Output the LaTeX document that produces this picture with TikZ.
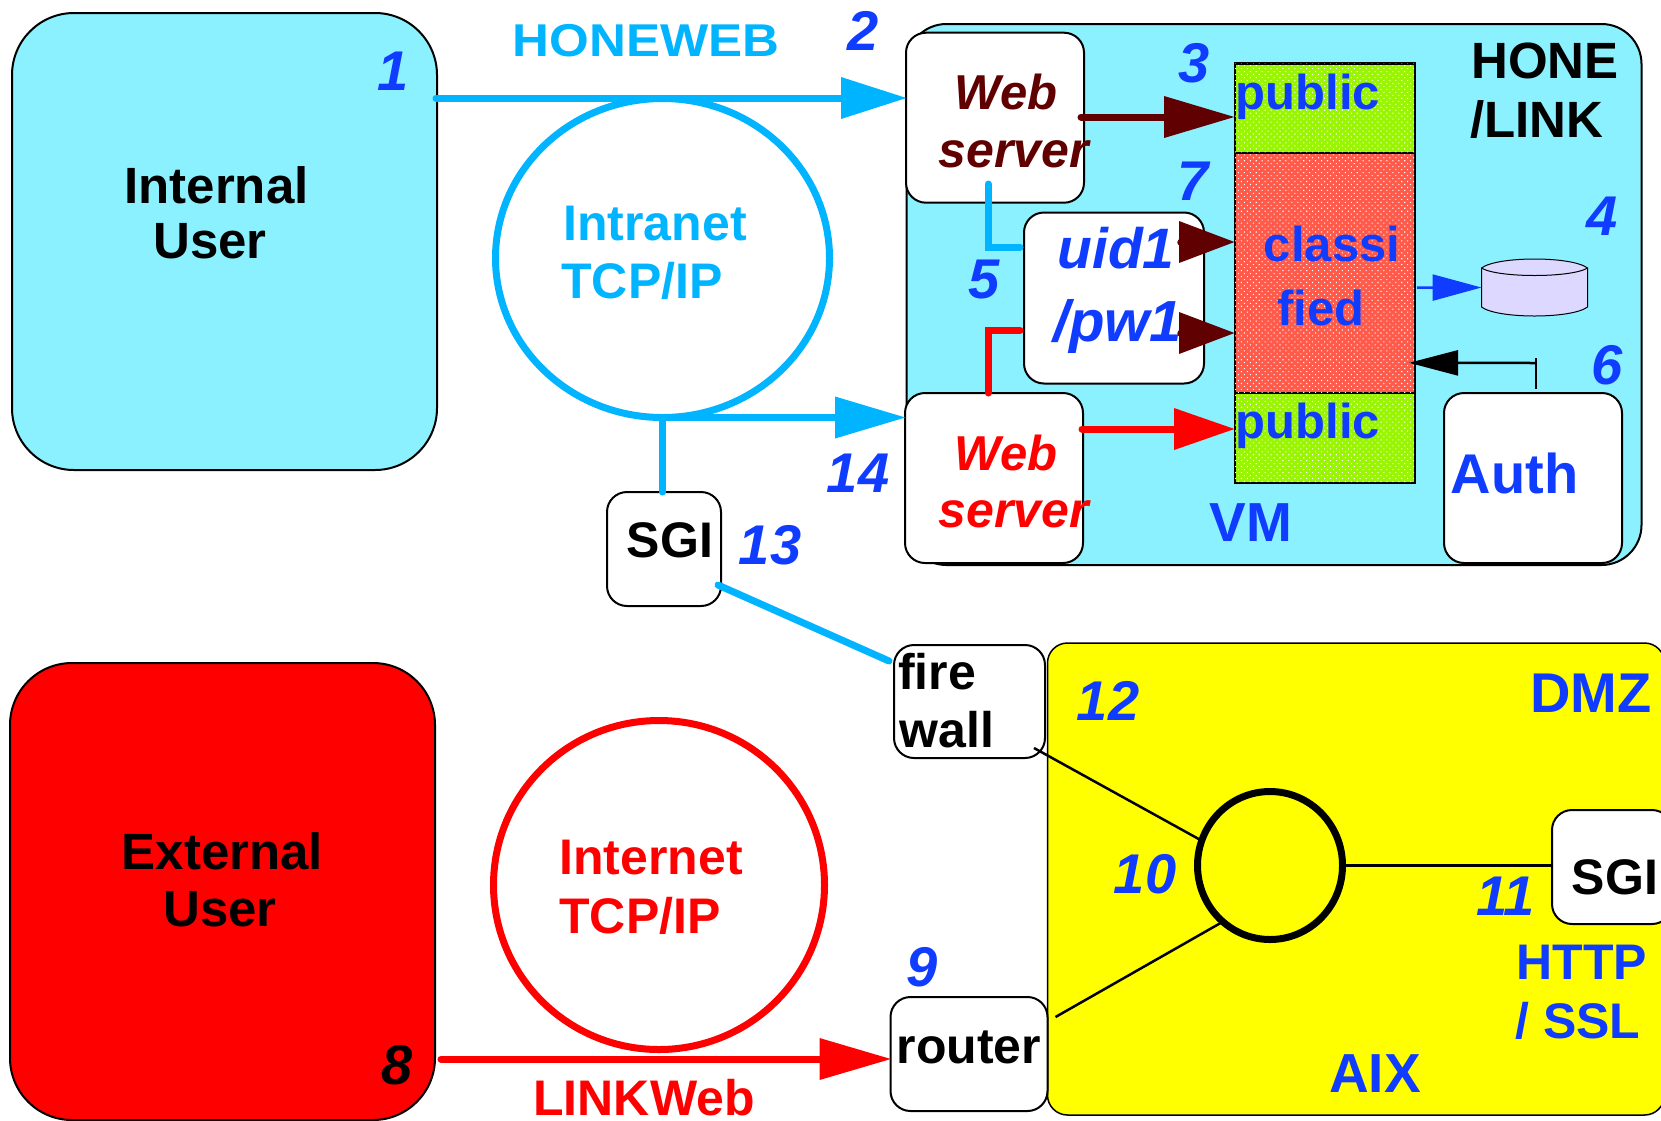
\documentclass[tikz,border=0pt]{standalone}
\usepackage{fontspec}
\setmainfont{Liberation Sans}
\usepackage{xcolor}
\usetikzlibrary{arrows.meta, patterns.meta, shapes.geometric}

\definecolor{hone}{HTML}{8CF1FF}
\definecolor{netblue}{HTML}{00B4FF}
\definecolor{numblue}{HTML}{0F3CFF}
\definecolor{webred}{HTML}{600000}
\definecolor{pubgreen}{HTML}{99F500}
\definecolor{clsred}{HTML}{FF5A4A}
\definecolor{dbfill}{HTML}{DDD8FF}
\definecolor{dmzyellow}{HTML}{FFFF00}

\tikzset{
	x=1pt, y=-1pt,
	box/.style 2 args={draw=black, line width=2pt, rounded corners=20pt, fill=white, outer sep=0pt, inner sep=0pt, minimum width=#1, minimum height=#2},
	area/.style 2 args={box={#1}{#2}, rounded corners=62pt},
	ring/.style 2 args={ellipse, draw, line width=7pt, outer sep=0pt, inner sep=0pt, minimum width=#1, minimum height=#2},
	slab/.style n args={3}{draw=black, line width=2.5pt, outer sep=0pt, inner sep=0pt, minimum width=#1, minimum height=#2, fill=#3, postaction={pattern={Dots[angle=45, distance=4.2pt, radius=0.75pt]}, pattern color=white}},
	txt/.style={inner sep=0pt, font=\bfseries\fontsize{50}{50}\selectfont},
	itxt/.style={inner sep=0pt, font=\bfseries\itshape\fontsize{49}{49}\selectfont},
	num/.style={inner sep=0pt, text=numblue, font=\bfseries\itshape\fontsize{56}{56}\selectfont},
	wire/.style={line width=7pt, line cap=round},
	thin wire/.style={line width=2.5pt},
	bighead/.style={-{Triangle[length=#1, width=40pt]}},
}

\begin{document}
\begin{tikzpicture}
	\useasboundingbox (0,0) rectangle (1661,1120);

	\begin{scope}
		\node[area={425}{457}, fill=hone] (internal) at (224.5,241.5) {};
		\node[area={425}{457}, fill=red] (external) at (222.5,891.5) {};
		\node[area={735}{541}, fill=hone, rounded corners=40pt] (hone) at (1274,294.5) {};
		\node[box={617}{472}, fill=dmzyellow, line width=1.5pt] (dmz) at (1356,879) {};
	\end{scope}

	\begin{scope}
		\node[ring={334}{319}, draw=netblue] (intranet) at (662.5,258) {};
		\node[ring={331}{329}, draw=red] (internet) at (659,885) {};
		\node[ring={145}{148}, draw=black] (hub) at (1270,865.5) {};
	\end{scope}

	\begin{scope}
		\node[box={178}{170}] (webA) at (995,117.7) {};
		\node[box={178}{170}] (webB) at (994,478) {};
		\node[box={180}{171}] (uid) at (1114,298) {};
		\node[box={178}{170}] (auth) at (1533,478) {};
		\node[box={114}{114}] (sgiA) at (664,549) {};
		\node[box={151}{113}] (firewall) at (969.5,701.5) {};
		\node[box={157}{114}] (router) at (969,1054) {};
		\node[box={120}{114}] (sgiB) at (1612,867) {};
	\end{scope}

	\begin{scope}
		\node[slab={180}{89.2}{pubgreen}] (pubA) at (1325,108.2) {};
		\node[slab={180}{240}{clsred}] (cls) at (1325,272.8) {};
		\node[slab={180}{90}{pubgreen}] (pubB) at (1325,437.8) {};
		\node[minimum width=106pt, minimum height=57pt, inner sep=0pt, outer sep=0pt] (db) at (1534.5,287.5) {};
		\draw[line width=1pt, fill=dbfill] (1481.5,268) .. controls (1497.5,256) and (1571.5,256) .. (1587.5,268) -- (1587.5,307) .. controls (1571.5,319) and (1497.5,319) .. (1481.5,307) -- cycle;
		\draw[line width=1pt] (1481.5,268) .. controls (1497.5,278) and (1571.5,278) .. (1587.5,268);
	\end{scope}

	\begin{scope}
		\node[itxt, text=numblue, font=\bfseries\itshape\fontsize{57}{57}\selectfont] (uida) at (1116,248) {uid1};
		\node[itxt, text=numblue, font=\bfseries\itshape\fontsize{58}{58}\selectfont] (uidb) at (1117.5,326) {/pw1};
	\end{scope}

	\begin{scope}
		\draw[wire, netblue, bighead=66pt] ([xshift=-1pt, yshift=143.5pt]internal.east) -- ([xshift=1pt, yshift=19.7pt]webA.west);
		\draw[wire, netblue, bighead=71pt] (intranet.south) -- ([xshift=1pt, yshift=60.5pt]webB.west);
		\draw[wire, netblue] (intranet.south) -- (intranet.south |- sgiA.north);
		\draw[wire, netblue] ([xshift=-3pt, yshift=-36pt]sgiA.east) -- ([xshift=-5pt, yshift=40.5pt]firewall.west);
		\draw[wire, red, bighead=72pt] ([xshift=6pt, yshift=-167.5pt]external.east) -- ([xshift=1pt, yshift=-5pt]router.west);

		\draw[wire, webred, bighead=71pt] ([xshift=-3pt, yshift=0.7pt]webA.east) -- ([yshift=-8.8pt]pubA.west);
		\draw[wire, red, bighead=61pt] ([xshift=-1pt, yshift=49pt]webB.east) -- ([yshift=8.8pt]pubB.west);
		\draw[wire, webred, bighead=56pt] ([xshift=-18pt, yshift=56pt]uid.east) -- ([yshift=30.8pt]cls.west);
		\draw[wire, webred, bighead=56pt] ([xshift=-18pt, yshift=-35pt]uid.east) -- ([yshift=-60.2pt]cls.west);

		\draw[wire, netblue] ([xshift=-7pt, yshift=18.7pt]webA.south) |- ([xshift=-4pt, yshift=51pt]uid.west);
		\draw[wire, red] ([xshift=-6pt]webB.north) |- ([xshift=-4pt, yshift=-32.5pt]uid.west);

		\draw[thin wire, numblue, -{Triangle[length=49pt, width=26pt]}] ([xshift=2pt, yshift=-14.8pt]cls.east) -- (db.west);
		\draw[thin wire, -{Triangle[length=49pt, width=25pt]}] ([xshift=3pt, yshift=30pt]auth.north) -- ([xshift=-6pt, yshift=-90pt]cls.east);
		\draw[thin wire] ([xshift=3pt, yshift=4pt]auth.north) -- ([xshift=3pt, yshift=35pt]auth.north);

		\draw[thin wire] ([xshift=-11pt, yshift=10pt]firewall.south east) -- (hub.160);
		\draw[thin wire] ([xshift=8pt, yshift=37pt]router.east) -- (hub.-130);
		\draw[thin wire] (hub.east) -- (hub.east -| sgiB.west);
	\end{scope}

	\begin{scope}
		\node[txt, text=netblue, xscale=1.11, font=\bfseries\fontsize{46}{46}\selectfont] (honeweb) at (646,41) {HONEWEB};
		\node[txt, text=netblue] (intra) at (655,224) {Intranet};
		\node[txt, text=netblue] (intraip) at (642,281) {TCP/IP};
		\node[txt, text=red] (inter) at (651,858) {Internet};
		\node[txt, text=red] (interip) at (640,916) {TCP/IP};
		\node[txt, text=red] (linkweb) at (644,1098) {LINKWeb};

		\node[txt, font=\bfseries\fontsize{51}{51}\selectfont] (intuser) at (216.5,185) {Internal};
		\node[txt, font=\bfseries\fontsize{51}{51}\selectfont] (intuserb) at (210,241.5) {User};
		\node[txt, font=\bfseries\fontsize{51}{51}\selectfont] (extuser) at (222.5,851) {External};
		\node[txt, font=\bfseries\fontsize{51}{51}\selectfont] (extuserb) at (220,909) {User};

		\node[txt, font=\bfseries\fontsize{51}{51}\selectfont] (honelbl) at (1545,61) {HONE};
		\node[txt, font=\bfseries\fontsize{51}{51}\selectfont] (linklbl) at (1537,120) {/LINK};
		\node[txt, text=numblue, font=\bfseries\fontsize{55}{55}\selectfont] (vm) at (1251,523) {VM};
		\node[txt, text=numblue, font=\bfseries\fontsize{56}{56}\selectfont] (authlbl) at (1514.5,473) {Auth};
		\node[txt, text=numblue, font=\bfseries\fontsize{56}{56}\selectfont] (dmzlbl) at (1591,693) {DMZ};
		\node[txt, text=numblue, font=\bfseries\fontsize{55}{55}\selectfont] (aix) at (1375,1074) {AIX};
		\node[txt, text=numblue] (http) at (1582,962) {HTTP};
		\node[txt, text=numblue] (ssl) at (1578,1021) {/ SSL};

		\node[itxt, text=webred] (webAa) at (1006,92) {Web};
		\node[itxt, text=webred, font=\bfseries\itshape\fontsize{50}{50}\selectfont] (webAb) at (1013.5,154) {server};
		\node[itxt, text=red] (webBa) at (1006,453) {Web};
		\node[itxt, text=red, font=\bfseries\itshape\fontsize{50}{50}\selectfont] (webBb) at (1013.5,514) {server};

		\node[txt, text=numblue, font=\bfseries\fontsize{49}{49}\selectfont] (puba) at (1308,97) {public};
		\node[txt, text=numblue, font=\bfseries\fontsize{49}{49}\selectfont] (pubb) at (1308,426) {public};
		\node[txt, text=numblue, font=\bfseries\fontsize{49}{49}\selectfont] (clsa) at (1332,244) {classi};
		\node[txt, text=numblue, font=\bfseries\fontsize{49}{49}\selectfont] (clsb) at (1321,308) {fied};

		\node[txt] (sgiAlbl) at (670,540) {SGI};
		\node[txt] (sgiBlbl) at (1615,877) {SGI};
		\node[txt] (firea) at (937,672) {fire};
		\node[txt] (fireb) at (947,730) {wall};
		\node[txt] (routerlbl) at (969,1047) {router};
	\end{scope}

	\begin{scope}
		\node[num] (n1) at (393,71) {1};
		\node[num] (n2) at (863,31) {2};
		\node[num] (n3) at (1194,63) {3};
		\node[num] (n4) at (1602,216) {4};
		\node[num] (n5) at (983.6,280) {5};
		\node[num] (n6) at (1606.6,365.5) {6};
		\node[num] (n7) at (1193,181) {7};
		\node[num, text=black] (n8) at (397,1065) {8};
		\node[num] (n9) at (922,967) {9};
		\node[num] (n10) at (1145,874) {10};
		\node[num] (n11) at (1506,896) {11};
		\node[num] (n12) at (1108,701) {12};
		\node[num] (n13) at (770,545.5) {13};
		\node[num] (n14) at (858,473.5) {14};
	\end{scope}
\end{tikzpicture}
\end{document}
